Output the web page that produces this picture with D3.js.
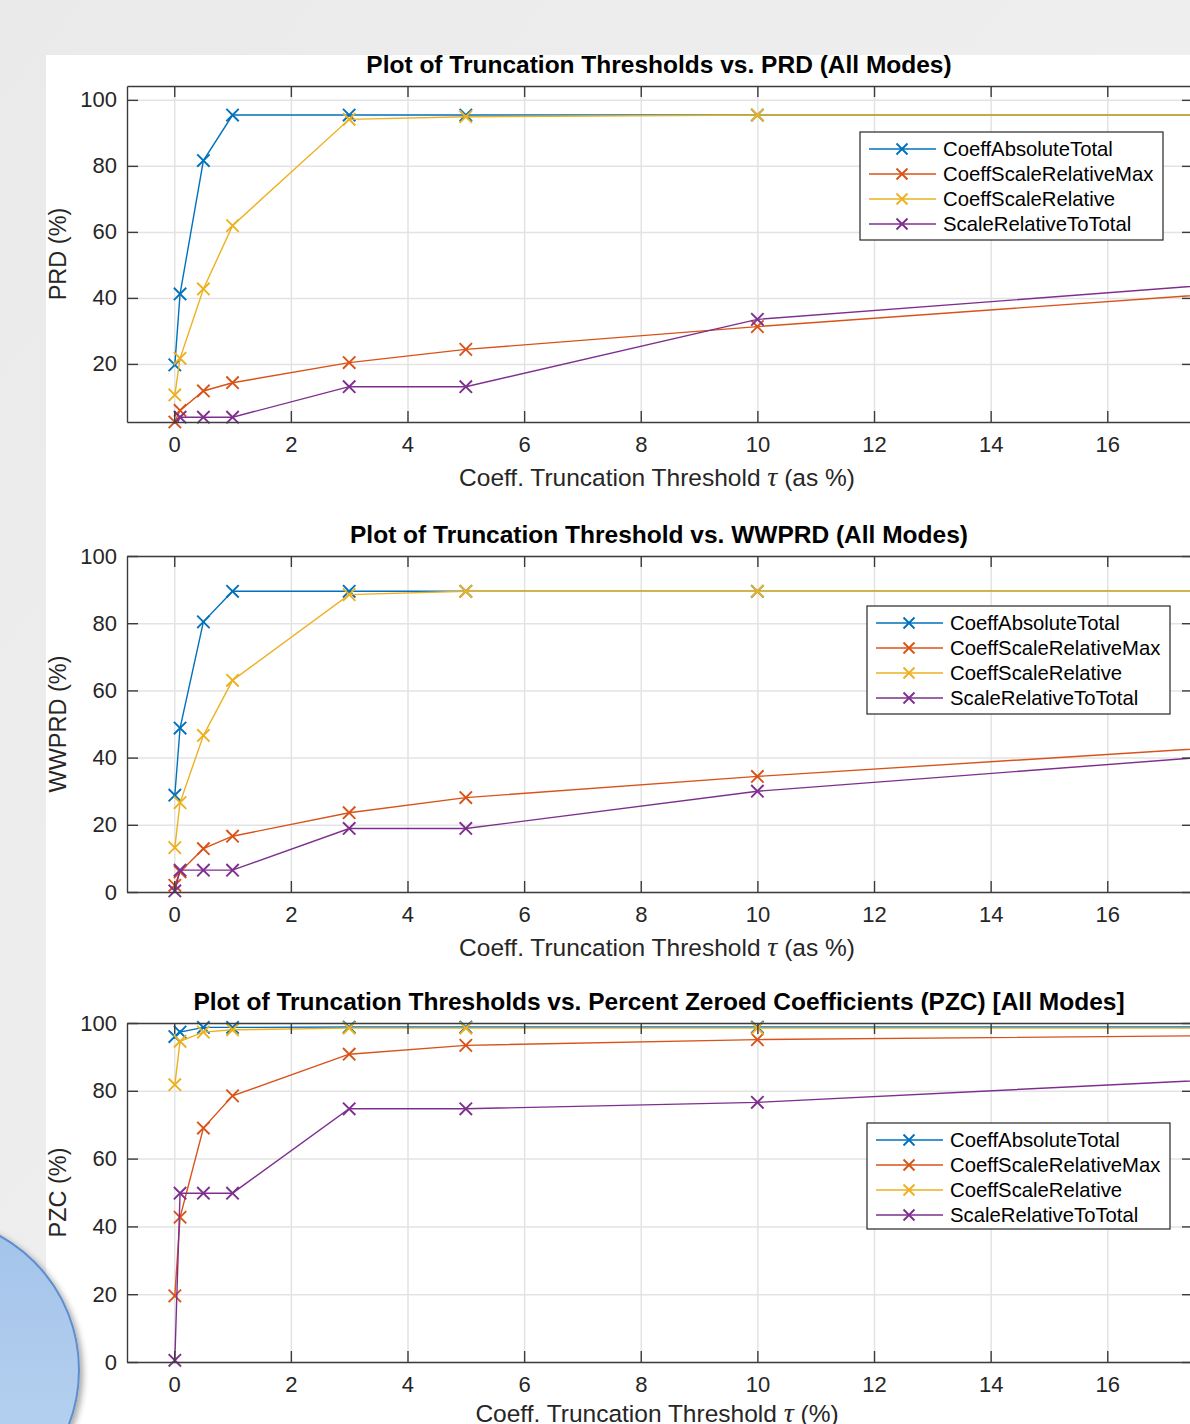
<!DOCTYPE html>
<html>
<head>
<meta charset="utf-8">
<script src="https://cdn.jsdelivr.net/npm/d3@7"></script>
<style>
  html, body { margin: 0; padding: 0; overflow: hidden; background: #eeeeee; }
  svg { display: block; }
</style>
</head>
<body>
<div id="chart"></div>
<script>
// threshold values tau (%)
const thresholds = [0.01, 0.1, 0.5, 1, 3, 5, 10, 20];
const modeNames = ["CoeffAbsoluteTotal", "CoeffScaleRelativeMax", "CoeffScaleRelative", "ScaleRelativeToTotal"];
const modeColors = ["#0072BD", "#D95319", "#EDB120", "#7E2F8E"];

// PRD (%)
const prdAbsTotal = [19.7, 41.2, 81.6, 95.4, 95.4, 95.4, 95.4, 95.4];
const prdRelMax   = [2.4, 5.9, 11.8, 14.3, 20.4, 24.4, 31.3, 43.9];
const prdRel      = [10.6, 21.7, 42.7, 61.9, 94.1, 94.9, 95.4, 95.4];
const prdRelTotal = [0.4, 3.85, 3.85, 3.85, 13.1, 13.1, 33.5, 46.9];

// WWPRD (%)
const wwAbsTotal = [28.8, 48.8, 80.4, 89.5, 89.5, 89.5, 89.5, 89.5];
const wwRelMax   = [2.0, 6.0, 12.9, 16.6, 23.6, 28.1, 34.4, 45.3];
const wwRel      = [13.2, 26.6, 46.6, 63.0, 88.5, 89.5, 89.5, 89.5];
const wwRelTotal = [0.3, 6.5, 6.5, 6.5, 18.9, 18.9, 30.0, 43.2];

// PZC (%)
const pzcAbsTotal = [96.0, 97.3, 98.7, 98.7, 98.8, 98.8, 98.8, 98.8];
const pzcRelMax   = [19.5, 42.7, 69.0, 78.5, 90.8, 93.4, 95.1, 96.6];
const pzcRel      = [81.8, 94.6, 97.3, 98.0, 98.5, 98.5, 98.5, 98.5];
const pzcRelTotal = [0.5, 49.8, 49.8, 49.8, 74.7, 74.7, 76.6, 85.1];

const xTicks = [0, 2, 4, 6, 8, 10, 12, 14, 16];
const yTicks = [0, 20, 40, 60, 80, 100];

const W = 1190, H = 1424;
const FONT = "'Liberation Sans', Arial, Helvetica, sans-serif";
const TXT = "#262626";
const AX = "#3c3c3c";

const svg = d3.select("#chart").append("svg")
  .attr("width", W).attr("height", H)
  .style("font-family", FONT);

const defs = svg.append("defs");

// slide background
const bg = defs.append("linearGradient").attr("id", "bgGrad")
  .attr("x1", 0).attr("y1", 0).attr("x2", 1).attr("y2", 1);
bg.append("stop").attr("offset", "0%").attr("stop-color", "#eaeaea");
bg.append("stop").attr("offset", "100%").attr("stop-color", "#f3f3f3");

const blue = defs.append("linearGradient").attr("id", "circGrad")
  .attr("x1", 0).attr("y1", 0).attr("x2", 0).attr("y2", 1);
blue.append("stop").attr("offset", "0%").attr("stop-color", "#a3c3ea");
blue.append("stop").attr("offset", "100%").attr("stop-color", "#bcd5f1");

const shadow = defs.append("filter").attr("id", "shadow")
  .attr("x", "-20%").attr("y", "-20%").attr("width", "140%").attr("height", "140%");
shadow.append("feDropShadow").attr("dx", 3).attr("dy", 3).attr("stdDeviation", 3)
  .attr("flood-color", "#000").attr("flood-opacity", 0.35);

svg.append("rect").attr("width", W).attr("height", H).attr("fill", "url(#bgGrad)");
svg.append("rect").attr("x", 46).attr("y", 55).attr("width", W - 46).attr("height", H - 55)
  .attr("fill", "#ffffff");

// x scale shared by all three axes
const left = 127, right = 1193;
const x = d3.scaleLinear().domain([-0.81, 17.47]).range([left, right]);

const panels = [
  {
    title: "Plot of Truncation Thresholds vs. PRD (All Modes)",
    ylabel: "PRD (%)",
    xlabel: ["Coeff. Truncation Threshold ", "\u03C4", " (as %)"],
    top: 86, bottom: 422, yDomain: [2.4, 104.2], xlabelGap: 64,
    series: [prdAbsTotal, prdRelMax, prdRel, prdRelTotal],
    legend: { x: 860, y: 132, w: 303, h: 108 }
  },
  {
    title: "Plot of Truncation Threshold vs. WWPRD (All Modes)",
    ylabel: "WWPRD (%)",
    xlabel: ["Coeff. Truncation Threshold ", "\u03C4", " (as %)"],
    top: 556, bottom: 892, yDomain: [0, 100], xlabelGap: 64,
    series: [wwAbsTotal, wwRelMax, wwRel, wwRelTotal],
    legend: { x: 867, y: 606, w: 303, h: 108 }
  },
  {
    title: "Plot of Truncation Thresholds vs. Percent Zeroed Coefficients (PZC) [All Modes]",
    ylabel: "PZC (%)",
    xlabel: ["Coeff. Truncation Threshold ", "\u03C4", " (%)"],
    top: 1023, bottom: 1362, yDomain: [0, 100], xlabelGap: 60,
    series: [pzcAbsTotal, pzcRelMax, pzcRel, pzcRelTotal],
    legend: { x: 867, y: 1123, w: 303, h: 106 }
  }
];

function xMarker(sel, color, size) {
  sel.append("path")
    .attr("d", `M${-size},${-size}L${size},${size}M${-size},${size}L${size},${-size}`)
    .attr("stroke", color)
    .attr("stroke-width", 1.9)
    .attr("fill", "none");
}

function styleAxis(g) {
  g.selectAll("path.domain").attr("stroke", AX).attr("stroke-width", 1.4);
  g.selectAll(".tick line").attr("stroke", AX).attr("stroke-width", 1.4);
  g.selectAll(".tick text").attr("fill", TXT).style("font-family", FONT);
}

panels.forEach((p, pi) => {
  const y = d3.scaleLinear().domain(p.yDomain).range([p.bottom, p.top]);
  const yt = yTicks.filter(v => v >= p.yDomain[0] && v <= p.yDomain[1]);
  const h = p.bottom - p.top;
  const g = svg.append("g");

  defs.append("clipPath").attr("id", "clip" + pi)
    .append("rect").attr("x", left).attr("y", p.top)
    .attr("width", right - left).attr("height", h);

  // grid
  g.append("g")
    .attr("transform", `translate(0,${p.bottom})`)
    .call(d3.axisBottom(x).tickValues(xTicks).tickSize(-h).tickFormat(""))
    .call(a => a.select(".domain").remove())
    .selectAll("line").attr("stroke", "#e3e3e3").attr("stroke-width", 1.5);
  g.append("g")
    .attr("transform", `translate(${left},0)`)
    .call(d3.axisLeft(y).tickValues(yt).tickSize(-(right - left)).tickFormat(""))
    .call(a => a.select(".domain").remove())
    .selectAll("line").attr("stroke", "#e3e3e3").attr("stroke-width", 1.5);

  // data
  const plot = g.append("g");
  const line = d3.line().x(d => x(d[0])).y(d => y(d[1]));
  p.series.forEach((vals, si) => {
    const pts = thresholds.map((t, i) => [t, vals[i]]);
    plot.append("path")
      .attr("d", line(pts))
      .attr("clip-path", `url(#clip${pi})`)
      .attr("fill", "none")
      .attr("stroke", modeColors[si])
      .attr("stroke-width", 1.4);
    pts.filter(d => d[1] >= p.yDomain[0] - 0.01 && d[1] <= p.yDomain[1] && d[0] <= x.domain()[1])
      .forEach(d => {
        const m = plot.append("g").attr("transform", `translate(${x(d[0])},${y(d[1])})`);
        xMarker(m, modeColors[si], 6.2);
      });
  });

  // axes
  g.append("g")
    .attr("transform", `translate(0,${p.bottom})`)
    .style("font-size", "22px")
    .call(d3.axisBottom(x).tickValues(xTicks).tickSize(-11).tickSizeOuter(0).tickPadding(14))
    .call(styleAxis);
  g.append("g")
    .attr("transform", `translate(0,${p.top})`)
    .call(d3.axisTop(x).tickValues(xTicks).tickSize(-11).tickSizeOuter(0).tickFormat(""))
    .call(styleAxis);
  g.append("g")
    .attr("transform", `translate(${left},0)`)
    .style("font-size", "22px")
    .call(d3.axisLeft(y).tickValues(yt).tickSize(-11).tickSizeOuter(0).tickPadding(10))
    .call(styleAxis);
  g.append("g")
    .attr("transform", `translate(${right},0)`)
    .call(d3.axisRight(y).tickValues(yt).tickSize(-11).tickSizeOuter(0).tickFormat(""))
    .call(styleAxis);

  // title
  g.append("text")
    .attr("x", (left + right) / 2 - 1)
    .attr("y", p.top - 13)
    .attr("text-anchor", "middle")
    .attr("font-size", "24.5px")
    .attr("font-weight", "bold")
    .attr("fill", "#000")
    .text(p.title);

  // x label
  const xl = g.append("text")
    .attr("x", (left + right) / 2 - 3)
    .attr("y", p.bottom + p.xlabelGap)
    .attr("text-anchor", "middle")
    .attr("font-size", "24.5px")
    .attr("fill", TXT);
  xl.append("tspan").text(p.xlabel[0]);
  xl.append("tspan").attr("font-family", "'Liberation Serif', 'DejaVu Serif', serif")
    .attr("font-style", "italic").attr("font-size", "28px").text(p.xlabel[1]);
  xl.append("tspan").text(p.xlabel[2]);

  // y label
  g.append("text")
    .attr("transform", `translate(66,${(p.top + p.bottom) / 2}) rotate(-90)`)
    .attr("text-anchor", "middle")
    .attr("font-size", "23.5px")
    .attr("fill", TXT)
    .text(p.ylabel);

  // legend
  const L = p.legend;
  const lg = g.append("g").attr("transform", `translate(${L.x},${L.y})`);
  lg.append("rect")
    .attr("width", L.w).attr("height", L.h)
    .attr("fill", "#fff").attr("stroke", TXT).attr("stroke-width", 1.2);
  modeNames.forEach((name, i) => {
    const ry = 17 + i * 25;
    lg.append("line")
      .attr("x1", 9).attr("x2", 76).attr("y1", ry).attr("y2", ry)
      .attr("stroke", modeColors[i]).attr("stroke-width", 1.4);
    xMarker(lg.append("g").attr("transform", `translate(42,${ry})`), modeColors[i], 5.5);
    lg.append("text")
      .attr("x", 83).attr("y", ry + 7)
      .attr("font-size", "20.3px")
      .attr("fill", "#000")
      .text(name);
  });
});

// decorative slide circle
svg.append("circle")
  .attr("cx", -74).attr("cy", 1370).attr("r", 153)
  .attr("fill", "url(#circGrad)")
  .attr("stroke", "#5d8fcc").attr("stroke-width", 2)
  .attr("filter", "url(#shadow)");
</script>
</body>
</html>
